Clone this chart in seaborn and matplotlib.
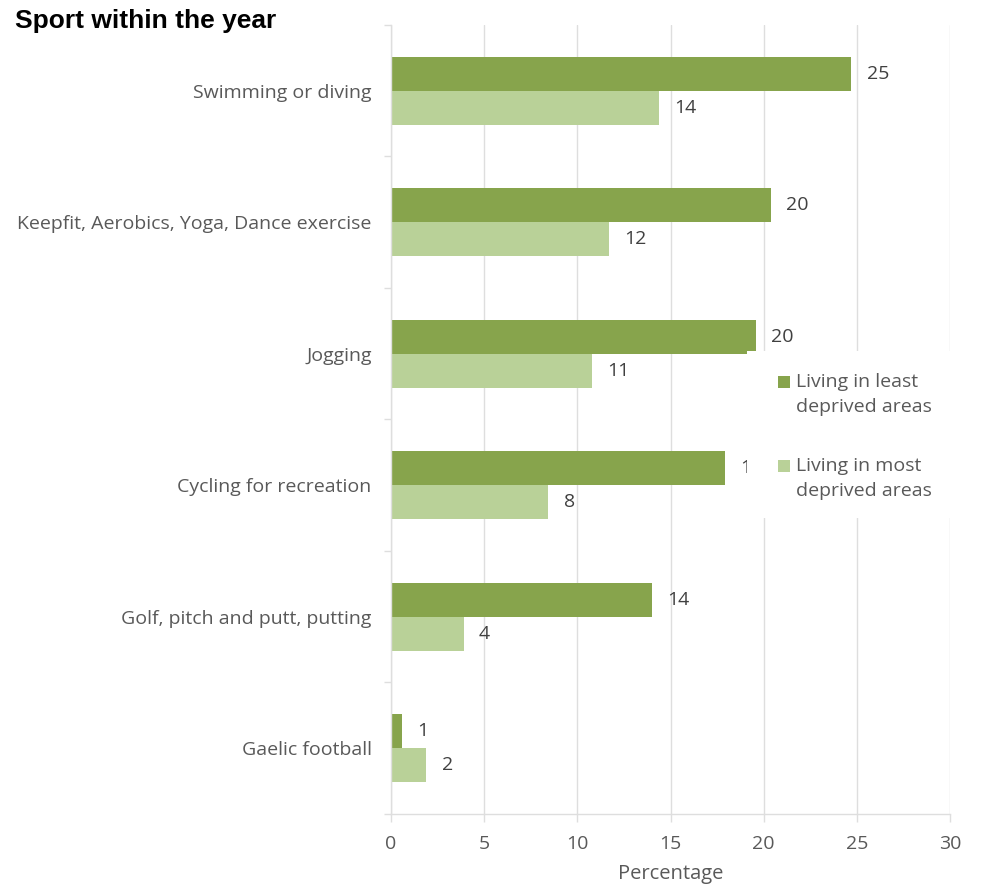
import matplotlib
matplotlib.use("Agg")
import matplotlib.pyplot as plt
import seaborn as sns
import pandas as pd
import numpy as np
from matplotlib.ticker import FixedLocator
from matplotlib.patches import Rectangle
from matplotlib.legend_handler import HandlerBase

# Survey results: share of adults taking part in each sport within the year
sports = [
    "Swimming or diving",
    "Keepfit, Aerobics, Yoga, Dance exercise",
    "Jogging",
    "Cycling for recreation",
    "Golf, pitch and putt, putting",
    "Gaelic football",
]
least_deprived = [24.7, 20.4, 19.6, 17.9, 14.0, 0.6]
most_deprived = [14.4, 11.7, 10.8, 8.45, 3.9, 1.9]
groups = ["Living in least\ndeprived areas", "Living in most\ndeprived areas"]
x_ticks = [0, 5, 10, 15, 20, 25, 30]

df = pd.DataFrame({
    "sport": sports * 2,
    "pct": least_deprived + most_deprived,
    "group": [groups[0]] * len(sports) + [groups[1]] * len(sports),
})

sns.set_theme(style="white")
plt.rcParams["font.family"] = ["Open Sans", "DejaVu Sans"]

TEXT = "#595959"
GRID = "#DEDEDE"
FS = 14
LINESPACING = 1.5
palette = {groups[0]: "#87A44C", groups[1]: "#B9D198"}


class TopLineSquare(HandlerBase):
    """Legend key drawn as a small square beside the first line of a two-line label."""

    def create_artists(self, legend, orig_handle, xdescent, ydescent,
                       width, height, fontsize, trans):
        size = 0.62 * fontsize
        step = 1.03 * fontsize * LINESPACING / 1.2
        sq = Rectangle((-xdescent, step - 0.6 * fontsize), size, size,
                       facecolor=orig_handle.get_facecolor(),
                       edgecolor="none", transform=trans)
        return [sq]


fig = plt.figure(figsize=(9.81, 8.84), dpi=100)
W, H = 981, 884
ax = fig.add_axes([391 / W, 1 - 814 / H, (950 - 391) / W, (814 - 25) / H])

sns.barplot(data=df, y="sport", x="pct", hue="group", orient="h",
            palette=palette, width=0.52, saturation=1, linewidth=0,
            ax=ax, zorder=2, legend=True)

ax.set_xlim(0, 30)
ax.set_ylim(len(sports) - 0.5, -0.5)
ax.set_xticks(x_ticks)
ax.set_xticklabels([str(t) for t in x_ticks])
ax.xaxis.grid(True, color=GRID, linewidth=1, zorder=0)
ax.yaxis.grid(False)
ax.set_axisbelow(True)

# category separators as small ticks on the left axis
ax.yaxis.set_minor_locator(FixedLocator(np.arange(-0.5, len(sports), 1.0)))
ax.tick_params(axis="y", which="major", length=0, pad=14, labelsize=FS, labelcolor=TEXT)
ax.tick_params(axis="y", which="minor", length=5, width=1, color=GRID, left=True)
ax.tick_params(axis="x", which="major", length=6, width=1, color=GRID, bottom=True,
               pad=9, labelsize=FS, labelcolor=TEXT)

for side in ["top", "right"]:
    ax.spines[side].set_visible(False)
for side in ["left", "bottom"]:
    ax.spines[side].set_color(GRID)
    ax.spines[side].set_linewidth(1)

ax.set_ylabel("")
ax.set_xlabel("Percentage", fontsize=FS + 0.5, color=TEXT, labelpad=8)

for cont in ax.containers:
    vals = [b.get_width() for b in cont]
    ax.bar_label(cont, labels=[f"{v:.0f}" for v in vals], padding=11,
                 fontsize=FS, color="#404040")

# white panel behind the legend, covering grid lines and labels beneath it
panel = Rectangle((747 / W, 1 - 518 / H), (958 - 747) / W, (518 - 351) / H,
                  transform=fig.transFigure, facecolor="white", edgecolor="none",
                  zorder=4, clip_on=False)
ax.add_patch(panel)

handles, labels = ax.get_legend_handles_labels()
leg = ax.legend(handles, labels, loc="upper left",
                bbox_to_anchor=(778 / W, 1 - 373 / H),
                bbox_transform=fig.transFigure, frameon=False, fontsize=FS,
                handlelength=0.62, handleheight=0.7, handletextpad=0.32,
                labelspacing=2.1, borderpad=0, borderaxespad=0,
                handler_map={Rectangle: TopLineSquare()})
leg.set_zorder(5)
for t in leg.get_texts():
    t.set_color(TEXT)
    t.set_linespacing(LINESPACING)

fig.text(15 / W, 1 - 21 / H, "Sport within the year", fontsize=19,
         fontweight="bold", family=["Liberation Sans", "DejaVu Sans"],
         color="black", va="center", ha="left")

fig.savefig("out.png", dpi=100)
